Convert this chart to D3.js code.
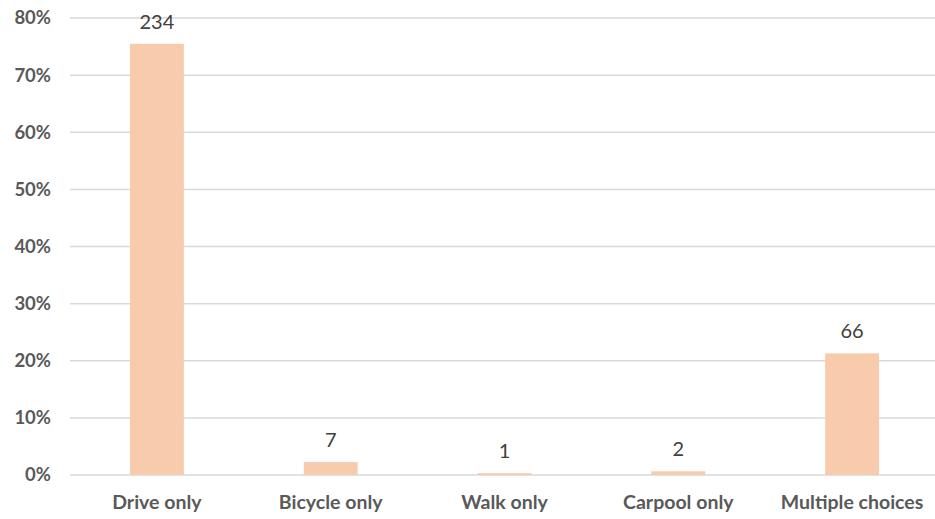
<!DOCTYPE html>
<html>
<head>
<meta charset="utf-8">
<script src="https://cdn.jsdelivr.net/npm/d3@7"></script>
<style>
  body { margin: 0; background: #fff; }
  svg { display: block; font-family: Lato, "Open Sans", sans-serif; }
</style>
</head>
<body>
<svg id="chart" width="935" height="519"></svg>
<script>
const categories = ['Drive only', 'Bicycle only', 'Walk only', 'Carpool only', 'Multiple choices'];
const counts = [234, 7, 1, 2, 66];
const yTicks = [0, 0.1, 0.2, 0.3, 0.4, 0.5, 0.6, 0.7, 0.8];

const total = d3.sum(counts);
const svg = d3.select('#chart');

const x = d3.scaleBand()
  .domain(categories)
  .range([70, 939])
  .paddingInner(0.69)
  .paddingOuter(0.345);

const y = d3.scaleLinear()
  .domain([0, 0.8])
  .range([475, 18]);

// gridlines
svg.append('g')
  .selectAll('line')
  .data(yTicks)
  .join('line')
  .attr('x1', 70)
  .attr('x2', 935)
  .attr('y1', d => y(d))
  .attr('y2', d => y(d))
  .style('stroke', '#d9d9d9')
  .style('stroke-width', 1.5);

// y axis labels
svg.append('g')
  .selectAll('text')
  .data(yTicks)
  .join('text')
  .attr('x', 51)
  .attr('y', d => y(d))
  .attr('dy', '0.35em')
  .attr('text-anchor', 'end')
  .text(d => d3.format('.0%')(d))
  .style('font-size', '18.5px')
  .style('font-weight', '700')
  .style('fill', '#595959');

// bars
svg.append('g')
  .selectAll('rect')
  .data(counts)
  .join('rect')
  .attr('x', (d, i) => x(categories[i]))
  .attr('y', d => y(d / total))
  .attr('width', x.bandwidth())
  .attr('height', d => 475 - y(d / total))
  .style('fill', '#f8cbad');

// value labels
svg.append('g')
  .selectAll('text')
  .data(counts)
  .join('text')
  .attr('x', (d, i) => x(categories[i]) + x.bandwidth() / 2)
  .attr('y', d => y(d / total) - 15)
  .attr('text-anchor', 'middle')
  .text(d => d)
  .style('font-size', '20px')
  .style('fill', '#404040');

// x axis labels
svg.append('g')
  .selectAll('text')
  .data(categories)
  .join('text')
  .attr('x', d => x(d) + x.bandwidth() / 2)
  .attr('y', 509)
  .attr('text-anchor', 'middle')
  .text(d => d)
  .style('font-size', '19.5px')
  .style('font-weight', '700')
  .style('fill', '#595959');
</script>
</body>
</html>
